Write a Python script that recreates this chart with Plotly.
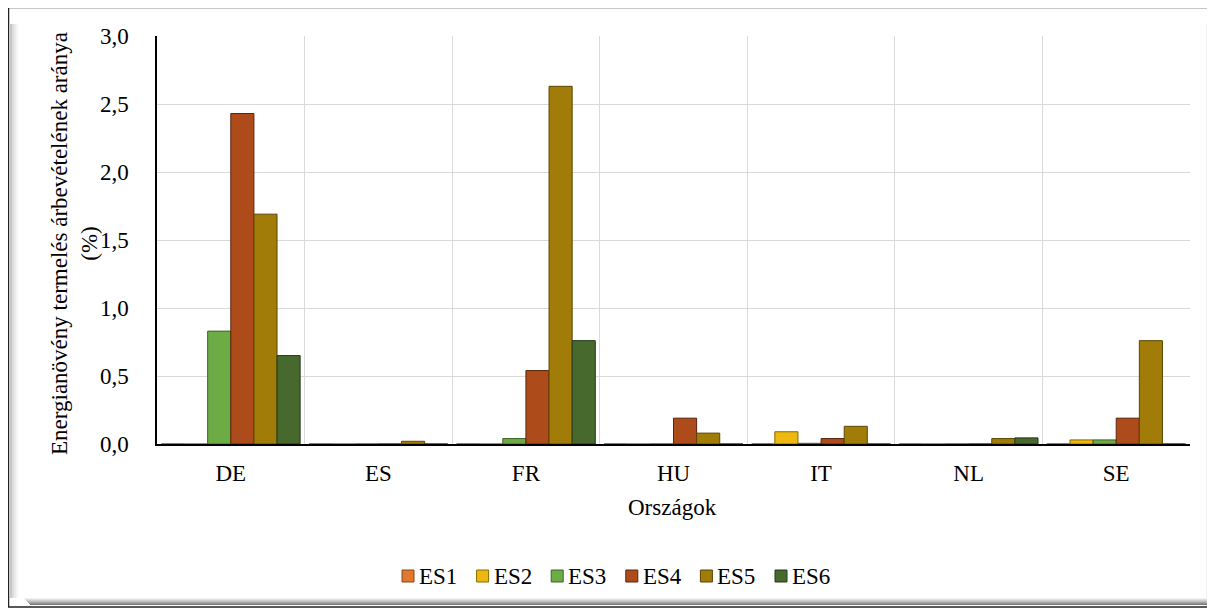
import plotly.graph_objects as go

# ---- data ----
countries = ["DE", "ES", "FR", "HU", "IT", "NL", "SE"]
series_names = ["ES1", "ES2", "ES3", "ES4", "ES5", "ES6"]
es1 = [0, 0, 0, 0, 0, 0, 0]
es2 = [0, 0, 0, 0, 0.09, 0, 0.03]
es3 = [0.83, 0, 0.04, 0, 0.005, 0, 0.03]
es4 = [2.43, 0, 0.54, 0.19, 0.04, 0, 0.19]
es5 = [1.69, 0.02, 2.63, 0.08, 0.13, 0.04, 0.76]
es6 = [0.65, 0, 0.76, 0, 0, 0.045, 0]
series_values = [es1, es2, es3, es4, es5, es6]
y_ticks = [0, 0.5, 1.0, 1.5, 2.0, 2.5, 3.0]

colors = ["#E2772F", "#EDB80F", "#6DAB45", "#AD4B1A", "#A27C08", "#47692D"]
edge_colors = ["#8A4515", "#8A6A05", "#3C6425", "#5A250A", "#5A4503", "#243A16"]

W, H = 1215, 608
OFF = 8  # page body margin: screen coords = figure coords + 8
# plot area in screen coordinates
SX0, SX1, SY0, SY1 = 157, 1190, 36, 444
ML = SX0 - OFF
MT = SY0 - OFF
PW = SX1 - SX0
PH = SY1 - SY0
MR = W - ML - PW
MB = H - MT - PH


def px(x):
    """screen x -> paper x"""
    return (x - SX0) / PW


def py(y):
    """screen y -> paper y"""
    return (SY1 - y) / PH


FONT = "Liberation Serif"
FS = 23

fig = go.Figure()
for name, vals, c, ec in zip(series_names, series_values, colors, edge_colors):
    fig.add_trace(go.Bar(
        x=countries, y=vals, name=name, showlegend=False,
        marker=dict(color=c, line=dict(color=ec, width=1)),
    ))

shapes = []
# outer chart frame with bevel
shapes.append(dict(type="rect", xref="paper", yref="paper",
                   x0=px(8.5), x1=px(1214), y0=py(607), y1=py(7.5),
                   line=dict(color="#222222", width=1.5), fillcolor="rgba(0,0,0,0)",
                   layer="below"))
for i, g in enumerate(["#f2f2f2", "#e0e0e0", "#cfcfcf", "#bdbdbd", "#a8a8a8", "#909090", "#7a7a7a"]):
    shapes.append(dict(type="rect", xref="paper", yref="paper",
                       x0=px(1206 + i), x1=px(1207 + i), y0=py(606), y1=py(24 + i),
                       line=dict(width=0), fillcolor=g, layer="below"))
    shapes.append(dict(type="rect", xref="paper", yref="paper",
                       x0=px(24 + i), x1=px(1213), y0=py(599 + i), y1=py(598 + i),
                       line=dict(width=0), fillcolor=g, layer="below"))
for i, g in enumerate(["#c8c8c8", "#dcdcdc", "#ebebeb", "#f5f5f5"]):
    shapes.append(dict(type="rect", xref="paper", yref="paper",
                       x0=px(10 + 2 * i), x1=px(12 + 2 * i), y0=py(598), y1=py(24),
                       line=dict(width=0), fillcolor=g, layer="below"))

annotations = [
    dict(text="Energianövény termelés árbevételének aránya<br>(%)",
         textangle=-90, xref="paper", yref="paper",
         x=px(74), y=py(244), xanchor="center", yanchor="middle",
         showarrow=False, font=dict(family=FONT, size=FS, color="#000000")),
    dict(text="Országok", xref="paper", yref="paper",
         x=px(672), y=py(508), xanchor="center", yanchor="middle",
         showarrow=False, font=dict(family=FONT, size=FS, color="#000000")),
]

# legend drawn as squares + text, from the series names and colours
LEG_X0, LEG_STEP, LEG_Y = 402, 74.6, 576
for i, (name, c, ec) in enumerate(zip(series_names, colors, edge_colors)):
    x0 = LEG_X0 + i * LEG_STEP
    shapes.append(dict(type="rect", xref="paper", yref="paper",
                       x0=px(x0), x1=px(x0 + 12), y0=py(LEG_Y + 6), y1=py(LEG_Y - 6),
                       line=dict(color=ec, width=1), fillcolor=c))
    annotations.append(dict(text=name, xref="paper", yref="paper",
                            x=px(x0 + 15), y=py(LEG_Y), xanchor="left", yanchor="middle",
                            showarrow=False,
                            font=dict(family=FONT, size=FS, color="#000000")))

fig.update_layout(
    width=W, height=H,
    margin=dict(l=ML, r=MR, t=MT, b=MB, pad=0),
    paper_bgcolor="white", plot_bgcolor="white",
    font=dict(family=FONT, size=FS, color="#000000"),
    separators=", ",
    barmode="group", bargap=0.06, bargroupgap=0,
    showlegend=False,
    shapes=shapes,
    annotations=annotations,
)
fig.update_xaxes(
    type="category", tickson="boundaries", showgrid=True, gridcolor="#d9d9d9", gridwidth=1,
    showline=True, linecolor="#000000", linewidth=2, ticks="", ticklabelstandoff=7,
    range=[-0.5, 6.5], zeroline=False,
)
fig.update_yaxes(
    range=[0, 3.0], tickvals=y_ticks, tickformat=".1f",
    showgrid=True, gridcolor="#d9d9d9", gridwidth=1,
    showline=True, linecolor="#000000", linewidth=1.5, ticks="", ticklabelstandoff=22,
    zeroline=False,
)

fig.write_html("out.html")
